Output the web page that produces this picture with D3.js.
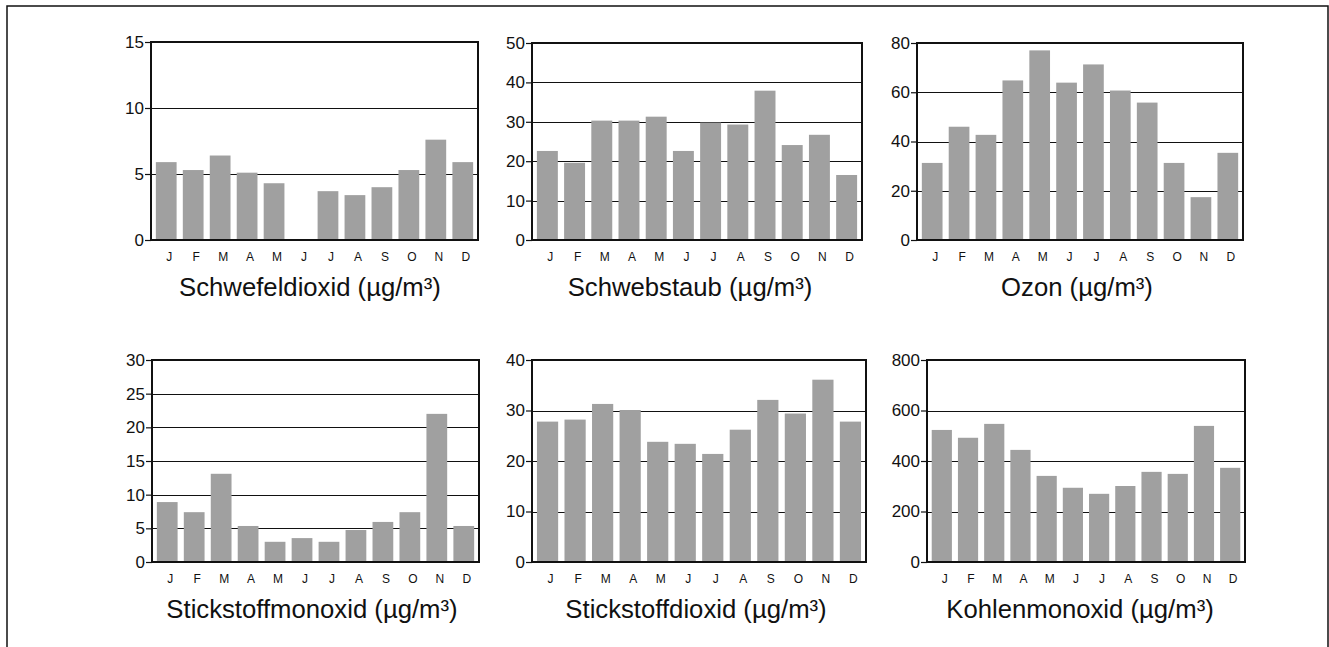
<!DOCTYPE html>
<html>
<head>
<meta charset="utf-8">
<script src="https://cdn.jsdelivr.net/npm/d3@7"></script>
<style>
  html, body { margin: 0; padding: 0; background: #fff; }
  svg { display: block; }
  text { font-family: "Liberation Sans", Arial, sans-serif; fill: #111; }
</style>
</head>
<body>
<svg id="chart" width="1329" height="647"></svg>
<script>
// Monthly mean concentrations, January to December
const months = ["J", "F", "M", "A", "M", "J", "J", "A", "S", "O", "N", "D"];

const schwefeldioxid    = [5.9, 5.3, 6.4, 5.1, 4.3, null, 3.7, 3.4, 4.0, 5.3, 7.6, 5.9];
const schwebstaub       = [22.6, 19.6, 30.3, 30.3, 31.3, 22.6, 29.8, 29.3, 37.9, 24.1, 26.7, 16.5];
const ozon              = [31.3, 46.0, 42.7, 64.8, 77.0, 63.9, 71.3, 60.7, 55.8, 31.3, 17.4, 35.4];
const stickstoffmonoxid = [8.9, 7.4, 13.1, 5.35, 3.0, 3.55, 3.0, 4.75, 5.95, 7.4, 22.0, 5.35];
const stickstoffdioxid  = [27.8, 28.2, 31.3, 30.1, 23.8, 23.4, 21.4, 26.2, 32.1, 29.4, 36.1, 27.8];
const kohlenmonoxid     = [523, 492, 547, 444, 341, 294, 270, 301, 357, 349, 539, 373];

const titles = [
  "Schwefeldioxid (µg/m³)", "Schwebstaub (µg/m³)", "Ozon (µg/m³)",
  "Stickstoffmonoxid (µg/m³)", "Stickstoffdioxid (µg/m³)", "Kohlenmonoxid (µg/m³)"
];
const series = [schwefeldioxid, schwebstaub, ozon, stickstoffmonoxid, stickstoffdioxid, kohlenmonoxid];
const yMax   = [15, 50, 80, 30, 40, 800];
const yStep  = [5, 10, 20, 5, 10, 200];

// Plot rectangles of the six panels: [left, top, right, bottom]
const frames = [
  [151, 42, 478, 240], [532, 43, 862, 240], [917, 43, 1243, 240],
  [152, 360, 479, 562], [532, 360, 866, 562], [927, 360, 1245, 562]
];
const titleCenters = [310, 690, 1077, 312, 696, 1080];

const svg = d3.select("#chart");

// outer frame (open at the bottom)
svg.append("path")
  .attr("d", "M7,647 V6 H1328 V647")
  .attr("fill", "none")
  .attr("stroke", "#111")
  .attr("stroke-width", 1.5);

series.forEach((values, i) => {
  const [x0, y0, x1, y1] = frames[i];
  const g = svg.append("g");

  const x = d3.scaleBand()
    .domain(d3.range(months.length))
    .range([x0, x1])
    .paddingInner(0.23)
    .paddingOuter(0.18);

  const y = d3.scaleLinear().domain([0, yMax[i]]).range([y1, y0]);
  const ticks = d3.range(0, yMax[i] + yStep[i] / 2, yStep[i]);

  // horizontal grid lines behind the bars
  g.append("g")
    .selectAll("line")
    .data(ticks.filter(t => t > 0 && t < yMax[i]))
    .join("line")
    .attr("x1", x0).attr("x2", x1)
    .attr("y1", d => Math.round(y(d)) + 0.5)
    .attr("y2", d => Math.round(y(d)) + 0.5)
    .attr("stroke", "#111")
    .attr("stroke-width", 1);

  // bars
  g.append("g")
    .selectAll("rect")
    .data(values.map((v, k) => ({ k, v })).filter(d => d.v != null))
    .join("rect")
    .attr("x", d => x(d.k))
    .attr("width", x.bandwidth())
    .attr("y", d => y(d.v))
    .attr("height", d => y(0) - y(d.v))
    .attr("fill", "#a0a0a0");

  // y axis with ticks and labels
  const yAxis = d3.axisLeft(y)
    .tickValues(ticks)
    .tickSize(6)
    .tickPadding(1)
    .tickFormat(d3.format("d"));
  const ay = g.append("g")
    .attr("transform", `translate(${x0},0)`)
    .call(yAxis);
  ay.select(".domain").remove();
  ay.selectAll(".tick line").attr("stroke", "#111").attr("stroke-width", 1.2);
  ay.selectAll(".tick text")
    .attr("font-size", 17)
    .attr("font-family", "'Liberation Sans', Arial, sans-serif")
    .attr("fill", "#111");

  // plot frame
  g.append("rect")
    .attr("x", x0).attr("y", y0)
    .attr("width", x1 - x0).attr("height", y1 - y0)
    .attr("fill", "none")
    .attr("stroke", "#111")
    .attr("stroke-width", 2);

  // month labels
  g.append("g")
    .selectAll("text")
    .data(months)
    .join("text")
    .attr("x", (d, k) => x(k) + x.bandwidth() / 2 + 3)
    .attr("y", y1 + 21)
    .attr("text-anchor", "middle")
    .attr("font-size", 12)
    .text(d => d);

  // panel title
  g.append("text")
    .attr("x", titleCenters[i])
    .attr("y", y1 + 56)
    .attr("text-anchor", "middle")
    .attr("font-size", 25.7)
    .text(titles[i]);
});
</script>
</body>
</html>
